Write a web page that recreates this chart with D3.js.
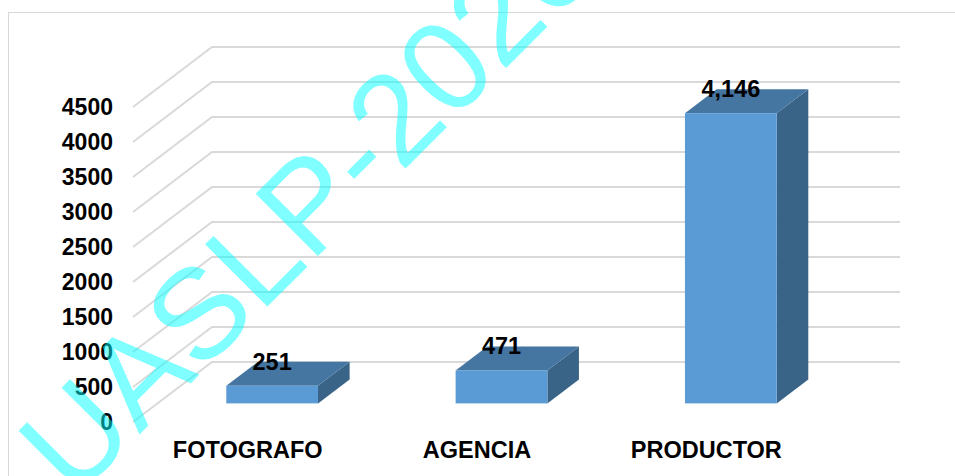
<!DOCTYPE html>
<html>
<head>
<meta charset="utf-8">
<script src="https://cdn.jsdelivr.net/npm/d3@7"></script>
<style>
  body { margin: 0; background: #fff; }
  svg { display: block; }
</style>
</head>
<body>
<div id="chart"></div>
<script>
const categories = ["FOTOGRAFO", "AGENCIA", "PRODUCTOR"];
const values = [251, 471, 4146];
const yTicks = [0, 500, 1000, 1500, 2000, 2500, 3000, 3500, 4000, 4500];
const watermark = "UASLP-2020";

const width = 955,
  height = 476;

// floor front-left corner and depth vector (3d look)
const X0 = 133,
  Y0 = 422,
  DX = 79,
  DY = -60,
  floorW = 688,
  dFront = 0.31,
  dBack = 0.71;

const svg = d3
  .select("#chart")
  .append("svg")
  .attr("width", width)
  .attr("height", height);

const x = d3.scaleBand().domain(categories).range([0, floorW]);
const y = d3.scaleLinear().domain([0, 4500]).range([0, 315]);

const pt = (xp, v, d) => [X0 + xp + DX * d, Y0 - y(v) + DY * d];

// chart border
svg
  .append("rect")
  .attr("x", 8.5)
  .attr("y", 12.5)
  .attr("width", 970)
  .attr("height", 490)
  .attr("fill", "none")
  .attr("stroke", "#d9d9d9")
  .attr("stroke-width", 1);

// gridlines: side wall + back wall
const grid = svg.append("g").attr("stroke", "#d9d9d9").attr("stroke-width", 2).attr("fill", "none");
grid
  .selectAll("path")
  .data(yTicks)
  .join("path")
  .attr("d", (t) => d3.line()([pt(0, t, 0), pt(0, t, 1), pt(floorW, t, 1)]));

// y tick labels
svg
  .append("g")
  .selectAll("text")
  .data(yTicks)
  .join("text")
  .attr("x", 113)
  .attr("y", (t) => pt(0, t, 0)[1])
  .attr("dy", "0.35em")
  .attr("text-anchor", "end")
  .style("font-family", "'Liberation Sans', Arial, sans-serif")
  .style("font-weight", "bold")
  .style("font-size", "23px")
  .text((t) => t);

// bars
const bw = x.bandwidth() * 0.4;
const bars = svg
  .append("g")
  .selectAll("g")
  .data(categories.map((c, i) => ({ cat: c, val: values[i] })))
  .join("g");

bars.each(function (d) {
  const g = d3.select(this);
  const xc = x(d.cat) + x.bandwidth() / 2;
  const l = xc - bw / 2,
    r = xc + bw / 2;
  // side face
  g.append("path")
    .attr("fill", "#3A6487")
    .attr("d", d3.line()([pt(r, d.val, dFront), pt(r, d.val, dBack), pt(r, 0, dBack), pt(r, 0, dFront)]) + "Z");
  // top face
  g.append("path")
    .attr("fill", "#4575A1")
    .attr("d", d3.line()([pt(l, d.val, dFront), pt(r, d.val, dFront), pt(r, d.val, dBack), pt(l, d.val, dBack)]) + "Z");
  // front face
  const a = pt(l, d.val, dFront),
    b = pt(r, 0, dFront);
  g.append("rect")
    .attr("fill", "#5B9BD5")
    .attr("x", a[0])
    .attr("y", a[1])
    .attr("width", b[0] - a[0])
    .attr("height", b[1] - a[1]);
  // value label
  g.append("text")
    .attr("x", (a[0] + b[0]) / 2)
    .attr("y", a[1] - 16)
    .attr("text-anchor", "middle")
    .style("font-family", "'Liberation Sans', Arial, sans-serif")
    .style("font-weight", "bold")
    .style("font-size", "23.5px")
    .text(d3.format(",")(d.val));
});

// category labels
svg
  .append("g")
  .selectAll("text")
  .data(categories)
  .join("text")
  .attr("x", (c) => X0 + x(c) + x.bandwidth() / 2)
  .attr("y", 458)
  .attr("text-anchor", "middle")
  .style("font-family", "'Liberation Sans', Arial, sans-serif")
  .style("font-weight", "bold")
  .style("font-size", "23.5px")
  .text((c) => c);

// watermark on top
svg
  .append("text")
  .attr("transform", "translate(74,500) rotate(-45)")
  .attr("fill", "#00FFFF")
  .attr("fill-opacity", 0.5)
  .style("font-family", "'Liberation Sans', Arial, sans-serif")
  .style("font-size", "128px")
  .text(watermark);
</script>
</body>
</html>
